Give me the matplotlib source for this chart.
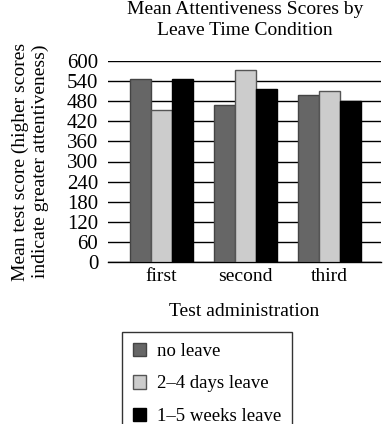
import numpy as np
import matplotlib
matplotlib.use("Agg")
import matplotlib.pyplot as plt

# data
tests = ["first", "second", "third"]
groups = ["no leave", "2\u20134 days leave", "1\u20135 weeks leave"]
no_leave = [545, 470, 498]
days_leave = [455, 574, 509]
weeks_leave = [545, 517, 481]
yticks = [0, 60, 120, 180, 240, 300, 360, 420, 480, 540, 600]

colors = ["#666666", "#cccccc", "#000000"]
edges = ["#444444", "#555555", "#000000"]

plt.rcParams["font.family"] = ["Liberation Serif", "DejaVu Serif"]
fs = 14

fig = plt.figure(figsize=(3.86, 4.24), dpi=100)
# axes box in pixels: x 108..381, y 61..262
ax = fig.add_axes([108 / 386, 1 - 262 / 424, 273 / 386, 201 / 424])

x = np.arange(len(tests))
w = 0.25
series = [no_leave, days_leave, weeks_leave]
bars = []
for i, vals in enumerate(series):
    b = ax.bar(x + (i - 1) * w, vals, w, color=colors[i], edgecolor=edges[i],
               linewidth=1.0, zorder=3, label=groups[i])
    bars.append(b)

ax.set_ylim(0, 600)
ax.set_xlim(-0.637, 2.61)
ax.set_yticks(yticks)
ax.set_xticks(x)
ax.set_xticklabels(tests)
ax.yaxis.grid(True, color="black", linewidth=1.0, zorder=0)
for s in ["left", "right", "top"]:
    ax.spines[s].set_visible(False)
ax.spines["bottom"].set_linewidth(1.0)
ax.tick_params(axis="y", length=0, labelsize=15, pad=7)
ax.tick_params(axis="x", length=0, labelsize=fs, pad=4)

fig.text(245 / 386, 1 - 20 / 424, "Mean Attentiveness Scores by\nLeave Time Condition",
         fontsize=fs, linespacing=1.3, ha="center", va="center")
ax.set_xlabel("Test administration", fontsize=fs, labelpad=13)
ax.set_ylabel("Mean test score (higher scores\nindicate greater attentiveness)",
              fontsize=fs, linespacing=1.2)
ax.yaxis.set_label_coords(-0.215, 0.5)

leg = fig.legend(handles=bars, labels=groups, loc="upper left",
                 bbox_to_anchor=(122 / 386, 1 - 332 / 424), borderaxespad=0,
                 fontsize=13.5, frameon=True, fancybox=False, edgecolor="black",
                 handlelength=0.7, handleheight=0.7, handletextpad=0.55,
                 labelspacing=0.8, borderpad=0.6)
leg.get_frame().set_linewidth(1.0)

fig.savefig("out.png", dpi=100)
